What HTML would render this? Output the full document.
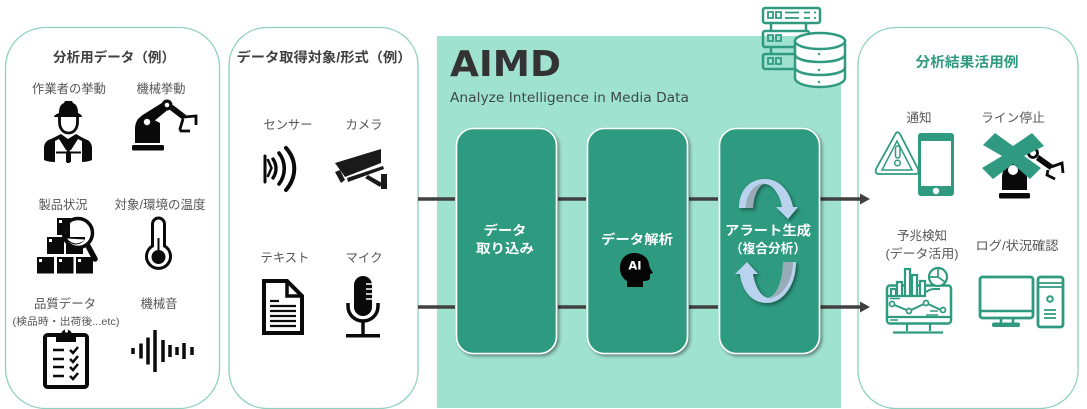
<!DOCTYPE html>
<html lang="ja"><head><meta charset="utf-8"><style>
html,body{margin:0;padding:0;background:#fff}
svg{display:block;filter:blur(.35px)}
text{font-family:"Liberation Sans","Noto Sans CJK JP",sans-serif}
.l{font-size:12.3px;fill:#555;text-anchor:middle}
.t{font-size:13.5px;font-weight:700;fill:#404040;text-anchor:middle}
.w{font-size:13px;font-weight:700;fill:#fff;text-anchor:middle}
.gs{fill:none;stroke:#2f9a80;stroke-width:2.5}
.bs{fill:none;stroke:#0a0a0a}
</style></head><body>
<svg width="1087" height="409" viewBox="0 0 1087 409" xmlns="http://www.w3.org/2000/svg">
<defs>
<filter id="sh" x="-10%" y="-10%" width="125%" height="125%"><feDropShadow dx="2" dy="2" stdDeviation="1.6" flood-color="#000" flood-opacity=".4"/></filter>
</defs>
<!-- panels -->
<rect x="5.500" y="27.500" width="214" height="381" rx="40" fill="#fff" stroke="#8fd0bf" stroke-width="1.300"/>
<rect x="229" y="27.500" width="189" height="381" rx="38" fill="#fff" stroke="#8fd0bf" stroke-width="1.300"/>
<rect x="437" y="36" width="404" height="372" fill="#a0e2d0"/>
<rect x="858" y="27.500" width="220" height="381" rx="38" fill="#fff" stroke="#8fd0bf" stroke-width="1.300"/>

<!-- connectors -->
<g stroke="#404040" stroke-width="3.600">
<path d="M418 199H455M558 199H586M689 199H718M820 199H862"/>
<path d="M418 307H455M558 307H586M689 307H718M820 307H862"/>
</g>
<path d="M860 193.500l10 5.500-10 5.500zM860 301.500l10 5.500-10 5.500z" fill="#404040"/>

<!-- Panel 1 -->
<text class="t" x="114" y="62" textLength="122" lengthAdjust="spacingAndGlyphs">分析用データ（例）</text>
<text class="l" x="69" y="93" textLength="74" lengthAdjust="spacingAndGlyphs">作業者の挙動</text>
<text class="l" x="161" y="93" textLength="49" lengthAdjust="spacingAndGlyphs">機械挙動</text>
<text class="l" x="63" y="209" textLength="49" lengthAdjust="spacingAndGlyphs">製品状況</text>
<text class="l" x="160" y="209" textLength="91" lengthAdjust="spacingAndGlyphs">対象/環境の温度</text>
<text class="l" x="65" y="308" textLength="62" lengthAdjust="spacingAndGlyphs">品質データ</text>
<text class="l" x="159" y="308" textLength="37" lengthAdjust="spacingAndGlyphs">機械音</text>
<text x="66" y="325" font-size="10" fill="#555" text-anchor="middle" textLength="107" lengthAdjust="spacingAndGlyphs">(検品時・出荷後...etc)</text>

<!-- worker -->
<path d="M54 117c0-2 3-3 5-4 0-6 2-9 5-10l1-2h7l1 2c3 1 5 4 5 10 2 1 4 2 4 4z" fill="#0a0a0a"/>
<path d="M59.500 117v5c0 7 4 11 9 11s9-4 9-11v-5" fill="#fff" stroke="#0a0a0a" stroke-width="2.800"/>
<path d="M44 160v-12c0-5 3-8 7-9l10-5 7 5 8-5 9 5c4 1 7 4 7 9v12c-4 2-9 2-13 2h-22c-4 0-9 0-13-2z" fill="#0a0a0a"/>
<path d="M55 141l4-2 7 11v-0h5l7-11 4 2v21h-11v-9h-5v9h-11z" fill="#fff"/>
<path d="M64 139l4.500 4 4.500-4-2 11h-5z" fill="#0a0a0a"/>
<path d="M56 152.500h25" stroke="#0a0a0a" stroke-width="2"/>
<rect x="66.800" y="146" width="3" height="17" fill="#0a0a0a"/>

<!-- robot arm -->
<g fill="#0a0a0a">
<rect x="132" y="145" width="32" height="5.500" rx="1.500"/>
<path d="M135 143v-14c0-8 4-13 10-14l15 8v20z"/>
<path d="M141 116l24-15 5 7-22 18z"/>
<circle cx="147" cy="122" r="7"/><circle cx="147" cy="122" r="3.200" fill="#fff"/>
<circle cx="167" cy="105" r="5.500"/><circle cx="167" cy="105" r="2.300" fill="#fff"/>
<path d="M173 105l13 10-3 5-13-10z"/>
</g>
<path d="M184 117l12-1v9M183 119l-3 10 1 2h9" class="bs" stroke-width="2.800"/>

<!-- boxes with magnifier -->
<g fill="#0a0a0a">
<rect x="37" y="257" width="17" height="16.500"/><rect x="57" y="257" width="16.500" height="16.500"/><rect x="76" y="257" width="17" height="16.500"/>
<rect x="47" y="237" width="17" height="17"/><rect x="66" y="237" width="17" height="17"/>
<rect x="57" y="218" width="14" height="17"/>
</g>
<g fill="#fff"><rect x="39" y="259" width="3" height="3"/><rect x="59" y="259" width="3" height="3"/><rect x="78" y="259" width="3" height="3"/><rect x="49" y="239" width="3" height="3"/><rect x="59" y="220" width="3" height="3"/></g>
<circle cx="78" cy="233" r="14.500" fill="#fff" stroke="#0a0a0a" stroke-width="3.500"/>
<path d="M66 225l4-3v15h15v2.500c-2 3-6 5-9 5-5 0-10-4-11-9z" fill="#0a0a0a"/>
<path d="M67 238.500a13 13 0 0 0 9 5h0c3 0 7-2 9-4z" fill="#fff"/>
<path d="M88 246l7 13" stroke="#0a0a0a" stroke-width="5.500" stroke-linecap="round"/>

<!-- thermometer -->
<path d="M152.500 224a6 6 0 0 1 12 0v22a12 12 0 1 1-12 0z" fill="#fff" stroke="#0a0a0a" stroke-width="3"/>
<rect x="157.500" y="238" width="2" height="14" fill="#0a0a0a"/>
<circle cx="158.500" cy="257" r="7" fill="#0a0a0a"/>

<!-- clipboard -->
<rect x="45" y="335" width="42" height="52" rx="2.500" fill="#fff" stroke="#0a0a0a" stroke-width="4"/>
<path d="M56 342v-7h5a5.500 5.500 0 0 1 11 0h4v7z" fill="#0a0a0a"/><circle cx="66.500" cy="331" r="1.600" fill="#fff"/>
<path d="M53 350h11M53 359h11M53 367h11M53 376h11" stroke="#0a0a0a" stroke-width="2.600"/>
<path d="M70 350l3 3 5-6M70 359l3 3 5-6M70 367l3 3 5-6M70 376l3 3 5-6" class="bs" stroke-width="2.500"/>

<!-- sound wave -->
<path d="M133 348v6M141 343.500v15M148 337.500v27M155 330v42M163 340v22M170 345v12M177 347v8M184 343v16M192 347v8" stroke="#0a0a0a" stroke-width="3.500"/>

<!-- Panel 2 -->
<text class="t" x="324" y="62" textLength="175" lengthAdjust="spacingAndGlyphs">データ取得対象/形式（例）</text>
<text class="l" x="288" y="129" textLength="49" lengthAdjust="spacingAndGlyphs">センサー</text>
<text class="l" x="364" y="129" textLength="37" lengthAdjust="spacingAndGlyphs">カメラ</text>
<text class="l" x="285" y="262" textLength="49" lengthAdjust="spacingAndGlyphs">テキスト</text>
<text class="l" x="364" y="262" textLength="37" lengthAdjust="spacingAndGlyphs">マイク</text>

<!-- sensor -->
<g class="bs" stroke-linecap="round">
<path d="M265 156v26" stroke-width="3"/>
<path d="M268 160l3.500 8-3.500 8" stroke-width="2.500"/>
<path d="M273 159c4 6 4 13 0 19" stroke-width="3.400"/>
<path d="M279 153c7 9 7 22 0 31" stroke-width="3.600"/>
<path d="M286 148c11 12 11 29 0 42" stroke-width="4"/>
</g>

<!-- camera -->
<g fill="#1a1a1a">
<path d="M335 163l46-14v14l-36 14z"/>
<path d="M335 172l5-2 5 10-4 3z"/>
<path d="M347 178l36-12 1 3-36 13z"/>
<path d="M368 175l14 8-2 4-15-9z"/>
<rect x="381" y="174" width="6" height="15"/>
</g>

<!-- doc -->
<path d="M264 281h23l15 15v37h-38z" fill="#fff" stroke="#0a0a0a" stroke-width="4"/>
<path d="M287 281v15h15" class="bs" stroke-width="3.500"/>
<path d="M270 301h9M270 306h26M270 311h26M270 316h26M270 321h26M270 326h26" stroke="#0a0a0a" stroke-width="2.200"/>

<!-- mic -->
<rect x="354" y="276" width="18" height="40" rx="9" fill="#0a0a0a"/>
<path d="M366 284h6M366 289h6M366 294h6M366 299h6" stroke="#fff" stroke-width="1.500"/>
<path d="M348 303v3c0 9 7 15 15 15s15-6 15-15v-3" class="bs" stroke-width="3.500"/>
<path d="M363 321v14" stroke="#0a0a0a" stroke-width="3.500"/>
<rect x="346" y="334" width="34" height="3.500" fill="#0a0a0a"/>

<!-- AIMD -->
<text x="450" y="76" font-size="36" font-weight="700" fill="#333" textLength="111" lengthAdjust="spacingAndGlyphs" style="font-family:'DejaVu Sans',sans-serif">AIMD</text>
<text x="450" y="102" font-size="13" fill="#3c4a47" textLength="239" lengthAdjust="spacingAndGlyphs" style="font-family:'DejaVu Sans',sans-serif">Analyze Intelligence in Media Data</text>

<!-- server -->
<g>
<rect x="763" y="8" width="57" height="15" rx="2" class="gs"/>
<rect x="763" y="31" width="46" height="16" rx="2" class="gs"/>
<rect x="763" y="54" width="34" height="15" rx="2" class="gs"/>
<path d="M771 23v8M806 23v8M771 47v7" class="gs"/>
<path d="M768 12h5v6h-5zM776 12h5v6h-5zM768 35h5v6h-5zM776 35h5v6h-5zM768 58h5v6h-5zM776 58h5v6h-5z" fill="none" stroke="#2f9a80" stroke-width="1.800"/>
<path d="M785 12.500h14M785 18h14M804 12.500h6M804 18h6M814 12.500h2M814 18h2" stroke="#2f9a80" stroke-width="1.800"/>
<path d="M795 41v37c0 5 11 9 25 9s25-4 25-9V41z" class="gs" style="fill:#fff"/>
<ellipse cx="820" cy="41" rx="25" ry="8" fill="#fff" stroke="#2f9a80" stroke-width="2.500"/>
<path d="M795 54c0 5 11 8 25 8s25-3 25-8M795 67c0 5 11 8 25 8s25-3 25-8" class="gs"/>
<circle cx="819" cy="54" r="1.200" fill="#2f9a80"/><circle cx="819" cy="70" r="1.200" fill="#2f9a80"/><circle cx="819" cy="82" r="1.200" fill="#2f9a80"/>
</g>

<!-- process boxes -->
<g fill="#2f9a80" stroke="#fff" stroke-width="1.600" filter="url(#sh)">
<rect x="456.500" y="128.500" width="100" height="225" rx="17"/>
<rect x="587.500" y="128.500" width="100" height="225" rx="17"/>
<rect x="719.500" y="128.500" width="100" height="225" rx="17"/>
</g>
<text class="w" x="505" y="235" textLength="43" lengthAdjust="spacingAndGlyphs">データ</text>
<text class="w" x="505" y="253" textLength="58" lengthAdjust="spacingAndGlyphs">取り込み</text>
<text class="w" x="637" y="244" textLength="72" lengthAdjust="spacingAndGlyphs">データ解析</text>
<!-- AI head -->
<path d="M627 287v-6c-4-2-7-7-7-13 0-9 6-15 14-15s15 5 15 12l1 3 3 5-3 1v4c0 2-3 3-7 3v6z" fill="#050505"/>
<text x="635" y="269.500" font-size="11.500" font-weight="700" fill="#fff" text-anchor="middle" style="font-family:'DejaVu Sans',sans-serif">AI</text>

<!-- cycle arrows -->
<g filter="url(#sh)">
<path d="M739 208C739 190 750 179 765 179C780 179 790 192 793 207L798 207L788 219L776 207L782 207C780 194 772 184 765 184C756 184 747 195 745.500 208z" fill="#b9d3ef"/>
<path d="M745.500 208C746 195 753 184 765 183C758 186 754 195 753 208z" fill="#9aabb8"/>
<path d="M796 262C796 285 783 303 767 303C751 303 742 290 740 274L735 274L747 262L758 274L753 274C755 286 760 296 768 298C777 296 783 280 783 262z" fill="#b9d3ef"/>
<path d="M783 262L793 262C793 282 782 297 768 299C778 295 783 280 783 262z" fill="#9aabb8"/>
</g>
<text class="w" x="768" y="235" textLength="86" lengthAdjust="spacingAndGlyphs">アラート生成</text>
<text class="w" x="768" y="253" textLength="76" lengthAdjust="spacingAndGlyphs">（複合分析）</text>

<!-- Panel 4 -->
<text x="967" y="67" font-size="14" font-weight="700" fill="#2f9a80" text-anchor="middle" textLength="103" lengthAdjust="spacingAndGlyphs">分析結果活用例</text>
<text class="l" x="919" y="122" textLength="25" lengthAdjust="spacingAndGlyphs">通知</text>
<text class="l" x="1013" y="122" textLength="64" lengthAdjust="spacingAndGlyphs">ライン停止</text>
<text class="l" x="922" y="240" textLength="50" lengthAdjust="spacingAndGlyphs">予兆検知</text>
<text class="l" x="922" y="258" textLength="73" lengthAdjust="spacingAndGlyphs">(データ活用)</text>
<text class="l" x="1017" y="250" textLength="83" lengthAdjust="spacingAndGlyphs">ログ/状況確認</text>

<!-- warning + phone -->
<path d="M896 133c1-1 3-1 4 1l18 35c1 4 0 5-3 5h-36c-3 0-4-2-3-5z" fill="#fff" stroke="#2f9a80" stroke-width="1.800"/>
<path d="M897 141l15 29h-30z" fill="none" stroke="#2f9a80" stroke-width="1.500"/>
<rect x="895.500" y="146" width="4.500" height="12" rx="2.200" fill="none" stroke="#2f9a80" stroke-width="1.500"/>
<circle cx="897.500" cy="163" r="2.800" fill="none" stroke="#2f9a80" stroke-width="1.500"/>
<rect x="918" y="133" width="36" height="63" rx="3" fill="#2f9a80"/>
<rect x="921" y="141" width="30" height="45" fill="#fff"/>
<circle cx="936" cy="191" r="3.200" fill="#fff"/>

<!-- stopped robot -->
<g fill="#0a0a0a">
<rect x="999" y="193" width="31" height="5.500" rx="1.500"/>
<path d="M1002 190v-12c0-9 5-14 12-14s13 5 13 14v12z"/>
<circle cx="1013" cy="170" r="7" fill="#fff" stroke="#0a0a0a" stroke-width="4"/>
<path d="M1039 155l14 10-3 5-14-10z"/>
<circle cx="1033" cy="153" r="4.500" fill="#fff" stroke="#0a0a0a" stroke-width="2.800"/>
</g>
<path d="M1051 167l11-4 1 10M1048 170l-1 5 8 4" class="bs" stroke-width="2.800"/>
<polygon points="995,133 1013,146 1032,133 1044,146 1024,156 1041,168 1030,179 1013,164 993,179 982,168 1002,156 983,145" fill="#2f9a80"/>

<!-- analytics monitor -->
<g>
<rect x="887" y="285.500" width="64" height="38" rx="3" class="gs" style="fill:#fff"/>
<path d="M891 296v-7h5v7M897 296v-14h5v14M905 296v-27h5v27M912 296v-21h5v21M920 296v-15h5v15M888 296h38" fill="#fff" stroke="#2f9a80" stroke-width="2.200"/>
<circle cx="938" cy="277" r="9" fill="#fff" stroke="#2f9a80" stroke-width="2.200"/>
<path d="M938 268v9l7 5M938 277h-9" fill="none" stroke="#2f9a80" stroke-width="1.700"/>
<path d="M926 292c3-2 5-3 8-3h6" class="gs" style="stroke-width:2"/>
<path d="M892 304l17 7 17-8 17 8" class="gs" style="stroke-width:2"/>
<circle cx="892" cy="304" r="2.500" fill="#fff" stroke="#2f9a80" stroke-width="1.700"/><circle cx="909" cy="311" r="2.500" fill="#fff" stroke="#2f9a80" stroke-width="1.700"/><circle cx="926" cy="303" r="2.500" fill="#fff" stroke="#2f9a80" stroke-width="1.700"/><circle cx="943" cy="310" r="2.500" fill="#fff" stroke="#2f9a80" stroke-width="1.700"/>
<path d="M887 317h64M907 323v8M930 323v8M893 332.500h50" class="gs" style="stroke-width:2.200"/>
<path d="M890 298.500h10M930 311h8M926 315h12M890 320h8" stroke="#2f9a80" stroke-width="1.500"/>
</g>

<!-- desktop PC -->
<rect x="980" y="277" width="53" height="41" rx="2.500" fill="#fff" stroke="#2f9a80" stroke-width="2.800"/>
<path d="M980 311h53M1001 318v5M1013 318v5" stroke="#2f9a80" stroke-width="2.600"/>
<rect x="992" y="322.500" width="28" height="4.500" rx="2" fill="#2f9a80"/>
<rect x="1038" y="277" width="25" height="50" rx="2.500" fill="#fff" stroke="#2f9a80" stroke-width="2.800"/>
<path d="M1038 283h25M1038 287h25" stroke="#2f9a80" stroke-width="1.800"/>
<circle cx="1050" cy="299" r="2.800" fill="none" stroke="#2f9a80" stroke-width="2"/>
<path d="M1044 310h12M1044 314h12M1044 318h12" stroke="#2f9a80" stroke-width="1.800"/>
</svg>
</body></html>
